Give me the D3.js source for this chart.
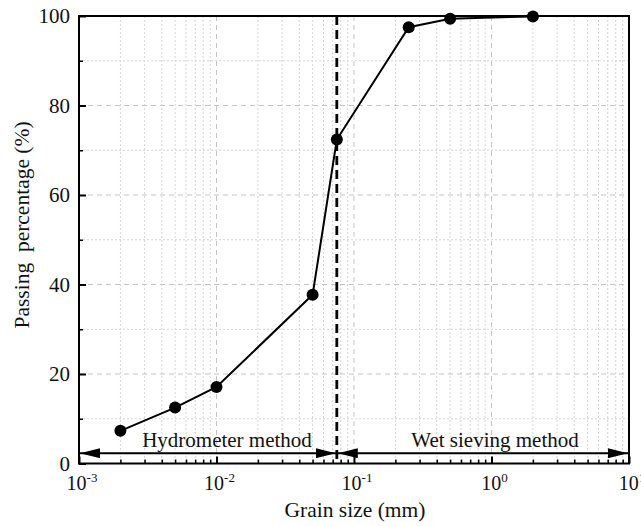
<!DOCTYPE html>
<html><head><meta charset="utf-8">
<script src="https://cdn.jsdelivr.net/npm/d3@7"></script>
<style>body{margin:0;background:#fff}svg{display:block}text{font-family:"Liberation Serif","Times New Roman",serif;fill:#111}</style>
</head><body><svg id="c" width="641" height="526"></svg>
<script>
const grainSize = [0.002, 0.005, 0.01, 0.05, 0.075, 0.25, 0.5, 2];
const passing = [7.3, 12.5, 17.1, 37.7, 72.4, 97.5, 99.4, 99.9];
const xTickExps = [-3, -2, -1, 0, 1];
const yTicks = [0, 20, 40, 60, 80, 100];
const boundary = 0.075;
const methods = ["Hydrometer method", "Wet sieving method"];

const svg = d3.select("#c");
const L = 79, R = 629, T = 16, B = 463.5;
const x = d3.scaleLog().domain([1e-3, 10]).range([L, R]);
const y = d3.scaleLinear().domain([0, 100]).range([B, T]);

const minorX = [];
for (let e = -3; e < 1; e++) for (let k = 2; k <= 9; k++) minorX.push(k * Math.pow(10, e));
const majorX = xTickExps.map(e => Math.pow(10, e));
const minorY = d3.range(10, 100, 20);

const g = svg.append("g");
g.selectAll(".gxm").data(minorX).join("line")
  .attr("x1", d => x(d)).attr("x2", d => x(d)).attr("y1", T).attr("y2", B)
  .attr("stroke", "#d4d4d4").attr("stroke-width", 1).attr("stroke-dasharray", "2,2");
g.selectAll(".gxM").data(majorX.slice(1, -1)).join("line")
  .attr("x1", d => x(d)).attr("x2", d => x(d)).attr("y1", T).attr("y2", B)
  .attr("stroke", "#c4c4c4").attr("stroke-width", 1).attr("stroke-dasharray", "5,4");
g.selectAll(".gym").data(minorY).join("line")
  .attr("x1", L).attr("x2", R).attr("y1", d => y(d)).attr("y2", d => y(d))
  .attr("stroke", "#d4d4d4").attr("stroke-width", 1).attr("stroke-dasharray", "2,2");
g.selectAll(".gyM").data(yTicks.slice(1, -1)).join("line")
  .attr("x1", L).attr("x2", R).attr("y1", d => y(d)).attr("y2", d => y(d))
  .attr("stroke", "#c4c4c4").attr("stroke-width", 1).attr("stroke-dasharray", "5,4");

svg.append("rect").attr("x", L).attr("y", T).attr("width", R - L).attr("height", B - T)
  .attr("fill", "none").attr("stroke", "#000").attr("stroke-width", 2);

const xAxis = d3.axisBottom(x).tickValues(majorX).tickSizeInner(-7).tickSizeOuter(0).tickFormat("");
const xa = svg.append("g").attr("transform", `translate(0,${B})`).call(xAxis);
xa.select(".domain").remove();
xa.selectAll("line").attr("stroke", "#000").attr("stroke-width", 2);
const xAxisMinor = d3.axisBottom(x).tickValues(minorX).tickSizeInner(-4).tickSizeOuter(0).tickFormat("");
const xam = svg.append("g").attr("transform", `translate(0,${B})`).call(xAxisMinor);
xam.select(".domain").remove();
xam.selectAll("line").attr("stroke", "#000").attr("stroke-width", 1.5);

const xl = svg.append("g");
xTickExps.forEach(e => {
  const t = xl.append("text").attr("x", x(Math.pow(10, e)) + 3).attr("y", 490)
    .attr("text-anchor", "middle").attr("font-size", 20);
  t.append("tspan").text("10");
  t.append("tspan").attr("dy", -8).attr("font-size", 13).text(String(e));
});

const yAxis = d3.axisLeft(y).tickValues(yTicks).tickSizeInner(-7).tickSizeOuter(0).tickPadding(9);
const ya = svg.append("g").attr("transform", `translate(${L},0)`).call(yAxis);
ya.select(".domain").remove();
ya.selectAll("line").attr("stroke", "#000").attr("stroke-width", 2);
ya.selectAll("text").attr("font-size", 21).attr("font-family", "Liberation Serif, Times New Roman, serif").attr("fill", "#111");
const yAxisMinor = d3.axisLeft(y).tickValues(minorY).tickSizeInner(-4).tickSizeOuter(0).tickFormat("");
const yam = svg.append("g").attr("transform", `translate(${L},0)`).call(yAxisMinor);
yam.select(".domain").remove();
yam.selectAll("line").attr("stroke", "#000").attr("stroke-width", 1.5);

svg.append("line").attr("x1", x(boundary)).attr("x2", x(boundary)).attr("y1", T).attr("y2", B)
  .attr("stroke", "#000").attr("stroke-width", 2.8).attr("stroke-dasharray", "9,5");

const defs = svg.append("defs");
defs.append("marker").attr("id", "ah").attr("viewBox", "0 0 20 10").attr("refX", 20).attr("refY", 5)
  .attr("markerWidth", 20).attr("markerHeight", 10).attr("markerUnits", "userSpaceOnUse")
  .attr("orient", "auto-start-reverse")
  .append("path").attr("d", "M0,0 L20,5 L0,10 Z").attr("fill", "#000");
const arrowY = y(2.3);
const spans = [[1e-3, boundary], [boundary, 10]];
svg.selectAll(".arr").data(spans).join("line")
  .attr("x1", d => x(d[0]) + 1).attr("x2", d => x(d[1]) - 1)
  .attr("y1", arrowY).attr("y2", arrowY)
  .attr("stroke", "#000").attr("stroke-width", 2)
  .attr("marker-start", "url(#ah)").attr("marker-end", "url(#ah)");
svg.selectAll(".mt").data(spans).join("text")
  .attr("x", (d, i) => i === 0 ? 227 : 495).attr("y", 447)
  .attr("text-anchor", "middle").attr("font-size", 21)
  .text((d, i) => methods[i]);

svg.append("path").datum(grainSize.map((g, i) => [g, passing[i]]))
  .attr("d", d3.line().x(d => x(d[0])).y(d => y(d[1])))
  .attr("fill", "none").attr("stroke", "#000").attr("stroke-width", 2);
svg.selectAll(".pt").data(grainSize.map((g, i) => [g, passing[i]])).join("circle")
  .attr("cx", d => x(d[0])).attr("cy", d => y(d[1])).attr("r", 6).attr("fill", "#000");

svg.append("text").attr("x", 355).attr("y", 517).attr("text-anchor", "middle").attr("font-size", 21.5)
  .text("Grain size (mm)");
svg.append("text").attr("transform", "translate(29,225) rotate(-90)").attr("text-anchor", "middle")
  .attr("font-size", 21.5).attr("xml:space", "preserve").style("white-space", "pre").text("Passing  percentage (%)");
</script></body></html>
